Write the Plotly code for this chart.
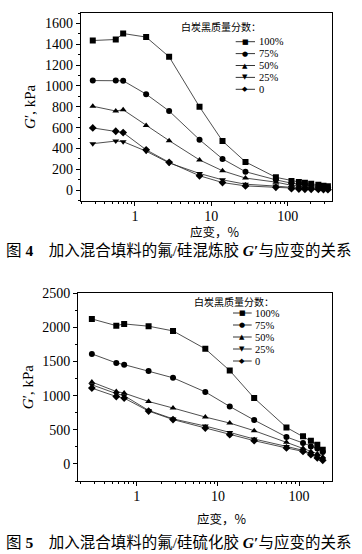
import plotly.graph_objects as go

W, H = 362, 554

series_names = ["100%", "75%", "50%", "25%", "0"]
symbols = ["square", "circle", "triangle-up", "triangle-down", "diamond"]
glyphs = ["■", "●", "▲", "▼", "◆"]
legend_title = "白炭黑质量分数："

# Figure 4 : uncured compound
strain1 = [0.28, 0.56, 0.7, 1.4, 2.8, 7, 14, 28, 70, 112, 140, 168, 203, 252, 294, 336]
g1_100 = [1436, 1446, 1503, 1469, 1280, 800, 472, 272, 124, 90, 80, 72, 62, 52, 44, 38]
g1_75 = [1052, 1052, 1050, 922, 760, 485, 301, 178, 100, 68, 58, 50, 44, 38, 32, 28]
g1_50 = [806, 760, 772, 622, 476, 291, 187, 117, 78, 48, 42, 36, 32, 27, 24, 20]
g1_25 = [447, 472, 466, 375, 262, 161, 100, 58, 40, 25, 22, 20, 18, 16, 14, 12]
g1_0 = [598, 566, 553, 388, 268, 139, 74, 42, 28, 15, 12, 10, 9, 8, 7, 6]

# Figure 5 : vulcanizate
strain2 = [0.28, 0.56, 0.7, 1.4, 2.8, 7, 14, 28, 70, 112, 140, 168, 196]
g2_100 = [2124, 2026, 2051, 2018, 1949, 1686, 1368, 965, 535, 404, 341, 282, 209]
g2_75 = [1612, 1480, 1455, 1360, 1262, 1055, 842, 643, 395, 307, 257, 225, 175]
g2_50 = [1200, 1061, 1038, 915, 819, 687, 599, 487, 316, 228, 184, 150, 102]
g2_25 = [1160, 1030, 1000, 784, 660, 555, 462, 365, 257, 199, 150, 111, 73]
g2_0 = [1111, 988, 965, 775, 650, 526, 428, 341, 234, 184, 136, 88, 53]

x_tickvals = [1, 10, 100]
x_ticktext = ["1", "10", "100"]
y1_ticks = [0, 200, 400, 600, 800, 1000, 1200, 1400, 1600]
y2_ticks = [0, 500, 1000, 1500, 2000, 2500]

xtitle = "应变，%"
ytitle = "<i>G</i>′, kPa"
caption4 = "图 <b>4</b>\u3000加入混合填料的氟/硅混炼胶 <b><i>G</i>′</b>与应变的关系"
caption5 = "图 <b>5</b>\u3000加入混合填料的氟/硅硫化胶 <b><i>G</i>′</b>与应变的关系"

SERIF = "Liberation Serif, Noto Sans CJK SC"
CJK = "Noto Sans CJK SC"

def px(x):
    return x / W

def py(y):
    return 1 - y / H

fig = go.Figure()

data1 = [g1_100, g1_75, g1_50, g1_25, g1_0]
data2 = [g2_100, g2_75, g2_50, g2_25, g2_0]

for name, sym, ys in zip(series_names, symbols, data1):
    fig.add_trace(go.Scatter(x=strain1, y=ys, mode="lines+markers", name=name,
                             xaxis="x", yaxis="y", showlegend=False,
                             line=dict(color="#222", width=0.8),
                             marker=dict(symbol=sym, size=6, color="black")))
for name, sym, ys in zip(series_names, symbols, data2):
    fig.add_trace(go.Scatter(x=strain2, y=ys, mode="lines+markers", name=name,
                             xaxis="x2", yaxis="y2", showlegend=False,
                             line=dict(color="#222", width=0.8),
                             marker=dict(symbol=sym, size=6, color="black")))

tickfont = dict(family=SERIF, size=14, color="black")
common_x = dict(type="log", showline=True, linecolor="black", linewidth=1.3, mirror=True,
                ticks="outside", ticklen=4, tickwidth=1, tickcolor="black",
                tickvals=x_tickvals, ticktext=x_ticktext, tickfont=tickfont,
                ticklabelstandoff=-2,
                showgrid=False, zeroline=False, automargin=False,
                minor=dict(ticks="outside", ticklen=2, tickcolor="black", dtick="D1", showgrid=False))
common_y = dict(showline=True, linecolor="black", linewidth=1.3, mirror=True,
                ticks="outside", ticklen=4, tickwidth=1, tickcolor="black",
                tickfont=tickfont, showgrid=False, zeroline=False, automargin=False,
                title=dict(text=ytitle, font=dict(family=SERIF, size=15, color="black"), standoff=5))

fig.update_layout(
    width=W, height=H, margin=dict(l=0, r=0, t=0, b=0),
    paper_bgcolor="white", plot_bgcolor="white", showlegend=False,
    xaxis=dict(common_x, domain=[px(81), px(332)], range=[-0.707, 2.58], anchor="y"),
    yaxis=dict(common_y, domain=[py(200.7), py(13)], range=[-100, 1700], tickvals=y1_ticks,
               minor=dict(ticks="outside", ticklen=2, tickcolor="black", dtick=100), anchor="x"),
    xaxis2=dict(common_x, domain=[px(78.3), px(332.3)], range=[-0.72, 2.41], anchor="y2"),
    yaxis2=dict(common_y, domain=[py(481), py(293.3)], range=[-250, 2500], tickvals=y2_ticks,
                minor=dict(ticks="outside", ticklen=2, tickcolor="black", dtick=250), anchor="x2"),
)

annotations = []
shapes = []

def ann(text, x, y, font, xanchor="left"):
    annotations.append(dict(text=text, x=px(x), y=py(y), xref="paper", yref="paper",
                            xanchor=xanchor, yanchor="middle", showarrow=False,
                            borderpad=0, font=font))

def add_legend(title_x, title_y, line_x0, line_x1, text_x, y0, dy):
    ann(legend_title, title_x, title_y, dict(family=CJK, size=10, color="black"))
    for i, (name, g) in enumerate(zip(series_names, glyphs)):
        yy = y0 + i * dy
        shapes.append(dict(type="line", xref="paper", yref="paper",
                           x0=px(line_x0), x1=px(line_x1), y0=py(yy), y1=py(yy),
                           line=dict(color="black", width=0.8)))
        ann(g, (line_x0 + line_x1) / 2, yy, dict(family="DejaVu Sans", size=7, color="black"), "center")
        ann(name, text_x, yy, dict(family=SERIF, size=10.5, color="black"))

add_legend(180, 26.0, 235.7, 255, 257.5, 41.7, 11.9)
add_legend(193, 301.0, 233, 251.7, 254, 313.0, 12.0)

# axis titles for x
ann(xtitle, 215, 232, dict(family=CJK, size=12.5, color="black"), "center")
ann(xtitle, 222, 518, dict(family=CJK, size=12.5, color="black"), "center")

ann(caption4, 178.5, 250, dict(family=SERIF, size=15.5, color="black"), "center")
ann(caption5, 178.5, 541.5, dict(family=SERIF, size=15.5, color="black"), "center")

fig.update_layout(annotations=annotations, shapes=shapes)
fig.write_html("out.html", config={"displayModeBar": False},
               post_script="document.body.style.margin='0';document.body.style.padding='0';document.body.style.overflow='hidden';")
